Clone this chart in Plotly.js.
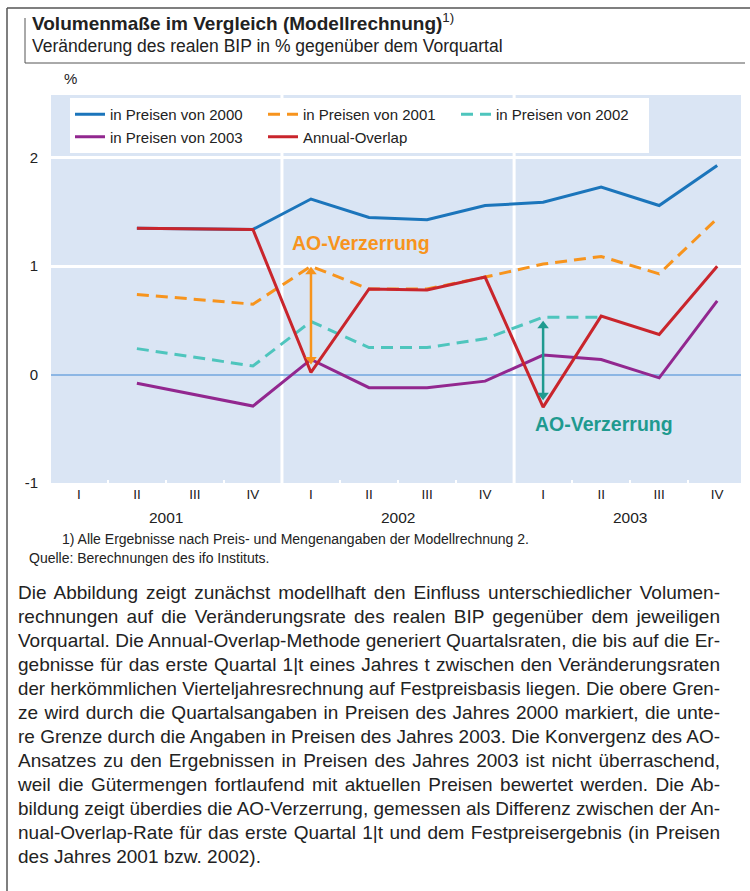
<!DOCTYPE html>
<html>
<head>
<meta charset="utf-8">
<script src="https://cdn.plot.ly/plotly-3.0.1.min.js"></script>
<style>
  html, body { margin: 0; padding: 0; background: #ffffff; }
  #wrap { position: relative; width: 750px; height: 891px; overflow: hidden; }
  #chart { position: absolute; left: 0; top: 0; width: 750px; height: 891px; }
  #body { position: absolute; left: 18px; top: 581px; width: 702px;
          font-family: Arial, "Liberation Sans", Helvetica, sans-serif; font-size: 19px;
          line-height: 24px; color: #222; }
  #body .ln { white-space: nowrap; text-align: justify; text-align-last: justify; transform-origin: left center; }
  #body .ln.last { text-align-last: left; }
</style>
</head>
<body>
<div id="wrap">
  <div id="chart"></div>
  <div id="body"></div>
</div>
<script>
// ---------------- data ----------------
const quarterLabels = ['I','II','III','IV','I','II','III','IV','I','II','III','IV'];
const yearLabels = ['2001','2002','2003'];
const yearCenters = [1.5, 5.5, 9.5];
const seriesNames = ['in Preisen von 2000','in Preisen von 2001','in Preisen von 2002','in Preisen von 2003','Annual-Overlap'];
const preise2000   = [null, 1.35, null, 1.34, 1.62, 1.45, 1.43, 1.56, 1.59, 1.73, 1.56, 1.93];
const preise2001   = [null, 0.74, null, 0.65, 1.00, 0.79, 0.79, 0.90, 1.02, 1.09, 0.93, 1.44];
const preise2002   = [null, 0.24, null, 0.08, 0.49, 0.25, 0.25, 0.33, 0.53, 0.53, null, null];
const preise2003   = [null, -0.08, null, -0.29, 0.14, -0.12, -0.12, -0.06, 0.18, 0.14, -0.03, 0.68];
const annualOverlap = [null, 1.35, null, 1.34, 0.02, 0.79, 0.78, 0.90, -0.30, 0.54, 0.37, 1.00];
// AO-Verzerrung arrows: quarter index, upper value, lower value
const arrowOrangeX = [4, 4];
const arrowOrangeY = [0.95, 0.14];
const arrowTealX = [8, 8];
const arrowTealY = [0.45, -0.19];

const bodyLines = [
  'Die Abbildung zeigt zunächst modellhaft den Einfluss unterschiedlicher Volumen-',
  'rechnungen auf die Veränderungsrate des realen BIP gegenüber dem jeweiligen',
  'Vorquartal. Die Annual-Overlap-Methode generiert Quartalsraten, die bis auf die Er-',
  'gebnisse für das erste Quartal 1|t eines Jahres t zwischen den Veränderungsraten',
  'der herkömmlichen Vierteljahresrechnung auf Festpreisbasis liegen. Die obere Gren-',
  'ze wird durch die Quartalsangaben in Preisen des Jahres 2000 markiert, die unte-',
  're Grenze durch die Angaben in Preisen des Jahres 2003. Die Konvergenz des AO-',
  'Ansatzes zu den Ergebnissen in Preisen des Jahres 2003 ist nicht überraschend,',
  'weil die Gütermengen fortlaufend mit aktuellen Preisen bewertet werden. Die Ab-',
  'bildung zeigt überdies die AO-Verzerrung, gemessen als Differenz zwischen der An-',
  'nual-Overlap-Rate für das erste Quartal 1|t und dem Festpreisergebnis (in Preisen',
  'des Jahres 2001 bzw. 2002).'
];

// ---------------- layout helpers ----------------
const W = 750, H = 891;
const M = {l: 51, r: 9, t: 95, b: 408};
const PW = W - M.l - M.r, PH = H - M.t - M.b;
const px = x => (x - M.l) / PW;          // pixel -> paper x
const py = y => (H - M.b - y) / PH;      // pixel -> paper y
const FONT = 'Arial, "Liberation Sans", Helvetica, sans-serif';
const TXT = '#222222';

const idx = quarterLabels.map((_, i) => i);
const colors = ['#1b75bb', '#f7941d', '#4ec5bd', '#92278f', '#c9252c'];
const dashes = ['solid', '12px,7px', '12px,7px', 'solid', 'solid'];
const values = [preise2000, preise2001, preise2002, preise2003, annualOverlap];

const traces = values.map((v, k) => ({
  type: 'scatter', mode: 'lines', x: idx, y: v, name: seriesNames[k],
  connectgaps: true,
  line: {color: colors[k], width: 3, dash: dashes[k]},
  hoverinfo: 'skip'
}));

function arrowTrace(xs, ys, color) {
  return {
    type: 'scatter', mode: 'lines+markers', x: xs, y: ys, showlegend: false, hoverinfo: 'skip',
    line: {color: color, width: 2.5},
    marker: {symbol: ['triangle-up', 'triangle-down'], size: 10, color: color, line: {width: 0}}
  };
}
traces.push(arrowTrace(arrowOrangeX, arrowOrangeY, '#f7941d'));
traces.push(arrowTrace(arrowTealX, arrowTealY, '#1f9a8f'));

const annotations = [
  {xref: 'paper', yref: 'paper', x: px(30), y: py(22), xanchor: 'left', yanchor: 'middle', showarrow: false,
   text: '<b>Volumenmaße im Vergleich (Modellrechnung)</b><sup>1)</sup>', font: {family: FONT, size: 19, color: TXT}},
  {xref: 'paper', yref: 'paper', x: px(30), y: py(46), xanchor: 'left', yanchor: 'middle', showarrow: false,
   text: 'Veränderung des realen BIP in % gegenüber dem Vorquartal', font: {family: FONT, size: 17.5, color: TXT}},
  {xref: 'paper', yref: 'paper', x: px(62), y: py(79), xanchor: 'left', yanchor: 'middle', showarrow: false,
   text: '%', font: {family: FONT, size: 15, color: TXT}},
  {xref: 'paper', yref: 'paper', x: px(60), y: py(539), xanchor: 'left', yanchor: 'middle', showarrow: false,
   text: '1) Alle Ergebnisse nach Preis- und Mengenangaben der Modellrechnung 2.', font: {family: FONT, size: 14, color: TXT}},
  {xref: 'paper', yref: 'paper', x: px(27), y: py(558), xanchor: 'left', yanchor: 'middle', showarrow: false,
   text: 'Quelle: Berechnungen des ifo Instituts.', font: {family: FONT, size: 14, color: TXT}},
  {xref: 'x', yref: 'y', x: 3.63, y: 1.21, xanchor: 'left', yanchor: 'middle', showarrow: false,
   text: '<b>AO-Verzerrung</b>', font: {family: FONT, size: 19.5, color: '#f7941d'}},
  {xref: 'x', yref: 'y', x: 7.83, y: -0.46, xanchor: 'left', yanchor: 'middle', showarrow: false,
   text: '<b>AO-Verzerrung</b>', font: {family: FONT, size: 19.5, color: '#1f9a8f'}}
];
yearLabels.forEach((t, i) => annotations.push({
  xref: 'x', yref: 'paper', x: yearCenters[i], y: py(517), xanchor: 'center', yanchor: 'middle', showarrow: false,
  text: t, font: {family: FONT, size: 15.5, color: TXT}
}));

const shapes = [
  // outer frame
  {type: 'line', xref: 'paper', yref: 'paper', x0: px(7), x1: px(752), y0: py(8), y1: py(8), line: {color: '#555', width: 1.5}},
  {type: 'line', xref: 'paper', yref: 'paper', x0: px(7), x1: px(7), y0: py(8), y1: py(893), line: {color: '#555', width: 1.5}},
  // title box
  {type: 'line', xref: 'paper', yref: 'paper', x0: px(25), x1: px(25), y0: py(18), y1: py(63), line: {color: '#555', width: 1}},
  {type: 'line', xref: 'paper', yref: 'paper', x0: px(25), x1: px(745), y0: py(63), y1: py(63), line: {color: '#555', width: 1}},
  // year separators
  {type: 'line', xref: 'x', yref: 'paper', x0: 3.5, x1: 3.5, y0: 0, y1: 1, layer: 'below', line: {color: '#ffffff', width: 3}},
  {type: 'line', xref: 'x', yref: 'paper', x0: 7.5, x1: 7.5, y0: 0, y1: 1, layer: 'below', line: {color: '#ffffff', width: 3}}
];

const minorVals = [0.5, 1.5, 2.5, 4.5, 5.5, 6.5, 8.5, 9.5, 10.5];

const layout = {
  width: W, height: H,
  margin: M,
  paper_bgcolor: '#ffffff',
  plot_bgcolor: '#dae5f4',
  font: {family: FONT, color: TXT},
  showlegend: true,
  legend: {
    orientation: 'h', x: px(70), y: py(98), xanchor: 'left', yanchor: 'top',
    bgcolor: '#ffffff', borderwidth: 0, font: {family: FONT, size: 15, color: TXT},
    entrywidth: 148, entrywidthmode: 'pixels', traceorder: 'normal'
  },
  xaxis: {
    range: [-0.48, 11.41], tickmode: 'array', tickvals: idx, ticktext: quarterLabels,
    showgrid: false, zeroline: false, showline: false, ticks: '',
    tickfont: {family: FONT, size: 13.5, color: TXT}, ticklabelstandoff: 1,
    minor: {tickmode: 'array', tickvals: minorVals, ticks: 'inside', ticklen: 3, tickwidth: 2, tickcolor: '#ffffff', showgrid: false},
    fixedrange: true
  },
  yaxis: {
    range: [-1, 2.58], tickmode: 'array', tickvals: [-1, 0, 1, 2], ticktext: ['-1', '0', '1', '2'],
    showgrid: true, gridcolor: '#ffffff', gridwidth: 3,
    zeroline: true, zerolinecolor: '#8cb6e4', zerolinewidth: 2,
    showline: false, ticks: '', ticklabelstandoff: 12,
    tickfont: {family: FONT, size: 15, color: TXT},
    fixedrange: true
  },
  annotations: annotations,
  shapes: shapes
};

Plotly.newPlot('chart', traces, layout, {displayModeBar: false, staticPlot: true});

// body paragraph (justified lines)
const body = document.getElementById('body');
bodyLines.forEach((t, i) => {
  const d = document.createElement('div');
  d.className = 'ln' + (i === bodyLines.length - 1 ? ' last' : '');
  d.textContent = t;
  body.appendChild(d);
});
// shrink any line whose natural width exceeds the column
Array.from(body.children).forEach((d, i) => {
  if (i === bodyLines.length - 1) return;
  const s = document.createElement('span');
  s.style.whiteSpace = 'nowrap';
  s.textContent = d.textContent;
  d.textContent = '';
  d.appendChild(s);
  const w = s.getBoundingClientRect().width;
  d.textContent = s.textContent;
  if (w > 702) { d.style.width = w + 'px'; d.style.transform = 'scaleX(' + (702 / w) + ')'; }
});
</script>
</body>
</html>
